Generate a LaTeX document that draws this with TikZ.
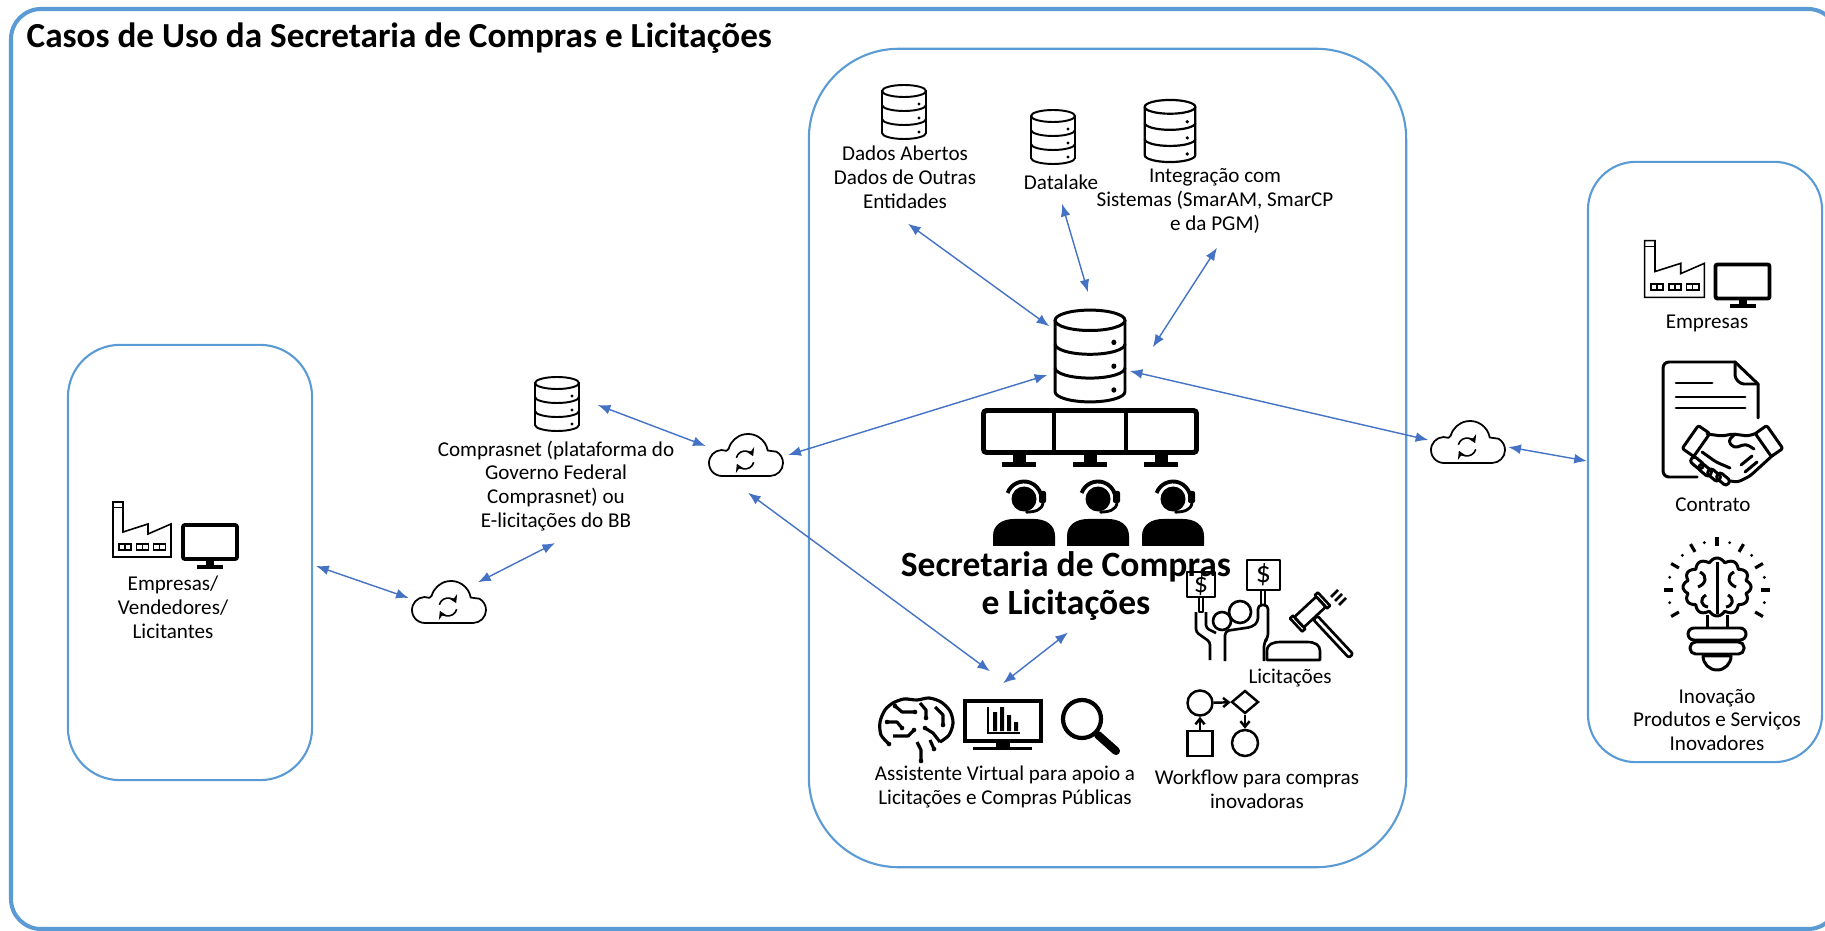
\documentclass[tikz,border=0pt]{standalone}
\usepackage{fontspec}
\setmainfont{Carlito}
\usetikzlibrary{arrows.meta,shapes.geometric}
\definecolor{frameblue}{RGB}{91,155,213}
\definecolor{arrowblue}{RGB}{68,114,196}

\tikzset{
  frame/.style={draw=frameblue, line width=1.15pt, rounded corners=0.3cm},
  panel/.style={draw=frameblue, line width=0.6pt, rectangle, inner sep=0pt},
  conn/.style={draw=arrowblue, line width=0.4pt,
    {Latex[length=3.6pt,width=2.8pt]}-{Latex[length=3.6pt,width=2.8pt]}},
  iconbox/.style={rectangle, inner sep=0pt, draw=none},
  lbl/.style={font=\fontsize{6}{6.8}\selectfont, align=center, inner sep=0pt},
  bigtxt/.style={font=\fontsize{10.1}{11}\selectfont\bfseries, align=center, inner sep=0pt},
  flowtip/.style={-{Straight Barb[length=1.6pt,width=2.6pt]}},
  synctip/.style={-{Stealth[length=2.2pt,width=2.6pt]}},
  % database cylinder, 44 x 54 units, centred
  dbicon/.pic={
    \draw (-22,-21) -- (-22,21) arc[start angle=180, end angle=0, x radius=22, y radius=6] -- (22,-21);
    \draw (0,-21) ellipse[x radius=22, y radius=6];
    \draw (-22,-7) arc[start angle=180, end angle=0, x radius=22, y radius=6];
    \draw (-22,7) arc[start angle=180, end angle=0, x radius=22, y radius=6];
    \fill (15,-8) circle[radius=1.6] (15,6) circle[radius=1.6] (15,20) circle[radius=1.6];
  },
  % cloud with sync arrows, 74 x 42 units
  cloudicon/.pic={
    \draw[line width=0.5pt, line join=round] (-24,21) -- (24,21) arc[start angle=90,end angle=-60,radius=13]
      -- (21.7,-4.5) arc[start angle=-10,end angle=-165,radius=20]
      -- (-19.6,-4.2) arc[start angle=-70,end angle=-270,radius=13] -- cycle;
    \draw[line width=0.45pt, synctip] (-1,5) ++(195:9) arc[start angle=195,end angle=335,radius=9];
    \draw[line width=0.45pt, synctip] (-1,5) ++(15:9) arc[start angle=15,end angle=155,radius=9];
  },
  % factory outline, 58 x 55 units
  factoryicon/.pic={
    \draw[line width=0.45pt, line join=miter] (-29,27.5) -- (-29,-27.5) -- (-19,-27.5) -- (-19,2.5) -- (6,-5.5)
      -- (6,4.5) -- (29,-5.5) -- (29,27.5) -- cycle;
    \draw[line width=0.45pt] (-29,-22) -- (-19,-22);
    \foreach \a in {-23,-5.5,11.5}{
      \draw[line width=0.45pt] (\a,14.5) rectangle ++(12,6);
      \draw[line width=0.45pt] (\a+6,14.5) -- ++(0,6);
    }
  },
  % desktop monitor, 58 x 46 units
  screenicon/.pic={
    \draw[line width=1.1pt, rounded corners=0.02cm] (-27,-21) rectangle (27,13);
    \fill (-4,15) rectangle (4,19);
    \fill (-13,19) rectangle (13,23);
  },
  % operator with headset
  agenticon/.pic={
    \fill (0,0) circle[radius=12.5];
    \draw[line width=1.1pt] (-160:17.5) arc[start angle=-160,end angle=-15,radius=17.5];
    \fill[rounded corners=0.02cm] (15,-8) rectangle (22,4);
    \draw[line width=0.8pt] (19,4) .. controls (18,11) and (11,13) .. (3,13);
    \fill (3,13) circle[radius=1.8];
    \fill (-31,47) -- (-31,37) .. controls (-31,26) and (-22,20) .. (-10,20) -- (10,20)
      .. controls (22,20) and (31,26) .. (31,37) -- (31,47) -- cycle;
  }
}

\begin{document}
\begin{tikzpicture}[x=0.01cm, y=-0.01cm]
\useasboundingbox (0,0) rectangle (1825,931);

% ---------- frame and title ----------
\draw[frame] (11,9) rectangle (1838,929);
\node[anchor=base west, inner sep=0pt, font=\fontsize{10}{12}\selectfont\bfseries] (title) at (26,48)
  {Casos de Uso da Secretaria de Compras e Licitações};

% ---------- panels ----------
\node[panel, rounded corners=0.52cm, minimum width=2.44cm, minimum height=4.35cm] (leftbox) at (190,562.5) {};
\node[panel, rounded corners=0.9cm, minimum width=5.97cm, minimum height=8.18cm] (centerbox) at (1107.5,458) {};
\node[panel, rounded corners=0.48cm, minimum width=2.34cm, minimum height=6.0cm] (rightbox) at (1705,462) {};

% ---------- left panel: companies ----------
\node[iconbox, minimum width=0.58cm, minimum height=0.55cm] (factL) at (142,529.5) {};
\pic at (factL) {factoryicon};
\node[iconbox, minimum width=0.58cm, minimum height=0.46cm] (monL) at (210,546) {};
\pic at (monL) {screenicon};
\node[lbl] (tleft) at (173,607) {Empresas/\\Vendedores/\\Licitantes};

% ---------- clouds ----------
\node[iconbox, minimum width=0.74cm, minimum height=0.43cm] (cloudL) at (449,602) {};
\pic at (cloudL) {cloudicon};
\node[iconbox, minimum width=0.74cm, minimum height=0.43cm] (cloudC) at (746,455) {};
\pic at (cloudC) {cloudicon};
\node[iconbox, minimum width=0.74cm, minimum height=0.43cm] (cloudR) at (1468,442) {};
\pic at (cloudR) {cloudicon};

% ---------- Comprasnet ----------
\node[iconbox, minimum width=0.45cm, minimum height=0.54cm] (dbcomp) at (557,404) {};
\pic[line width=0.55pt] at (dbcomp) {dbicon};
\node[lbl] (tcomp) at (556,486) {Comprasnet (plataforma do\\Governo Federal\\Comprasnet) ou\\E-licitações do BB};

% ---------- data sources ----------
\node[iconbox, minimum width=0.44cm, minimum height=0.54cm] (db1) at (904,112) {};
\pic[line width=0.55pt] at (db1) {dbicon};
\node[lbl] (t1) at (905,177) {Dados Abertos\\Dados de Outras\\Entidades};

\node[iconbox, minimum width=0.45cm, minimum height=0.53cm] (db2) at (1053,137) {};
\pic[line width=0.55pt] at (db2) {dbicon};
\node[lbl] (t2) at (1061,182) {Datalake};

\node[iconbox, minimum width=0.51cm, minimum height=0.62cm] (db3) at (1170,131) {};
\pic[line width=0.62pt, scale=1.15] at (db3) {dbicon};
\node[lbl] (t3) at (1215,201) {Integração com\\Sistemas (SmarAM, SmarCP\\e da PGM)};

\node[iconbox, minimum width=0.70cm, minimum height=0.92cm] (dbc) at (1090,356) {};
\pic[line width=0.85pt, xscale=1.59, yscale=1.7] at (dbc) {dbicon};

% ---------- monitoring room ----------
\draw[line width=1.4pt, rounded corners=0.03cm] (983.5,410.5) rectangle (1196.5,452.5);
\draw[line width=1.4pt] (1054,410.5) -- (1054,452.5) (1126,410.5) -- (1126,452.5);
\foreach \c in {1019,1090,1161}{
  \fill (\c-6.5,453) rectangle (\c+6.5,462);
  \fill (\c-17,462) rectangle (\c+17,467);
}
\foreach \c in {1024,1098,1173}{ \pic at (\c,499) {agenticon}; }
\node[bigtxt] (tsec) at (1066,586) {Secretaria de Compras\\e Licitações};

% ---------- bidding icon ----------
\begin{scope}[line width=0.75pt, line join=round]
  \draw (1222,621) circle[radius=9];
  \draw[rounded corners=0.03cm] (1196,612) -- (1196,632) -- (1210,642) -- (1210,660);
  \draw[rounded corners=0.03cm] (1206,612) -- (1206,628) -- (1216,633);
  \draw (1199,597) -- (1199,612) -- (1203,612) -- (1203,597);
  \draw (1187,572) rectangle (1215,597);
  \draw[fill=white, rounded corners=0.04cm] (1225,661) -- (1225,631) -- (1252,627) -- (1258,622) -- (1258,605)
     -- (1268,605) -- (1268,638) -- (1264,642) -- (1264,661);
  \draw[fill=white] (1240,612) circle[radius=11];
  \draw (1261,590) -- (1261,605) (1265,590) -- (1265,605);
  \draw (1247,560) rectangle (1280,590);
  \draw (1267,660) -- (1267,651) .. controls (1267,644) and (1273,642) .. (1281,642) -- (1307,642)
     .. controls (1315,642) and (1320,645) .. (1320,651) -- (1320,660) -- cycle;
  \begin{scope}[shift={(1310,612)}, rotate=-47]
    \draw[rounded corners=0.015cm] (8,-2.8) rectangle (60,2.8);
    \draw[rounded corners=0.02cm] (-7,-15) rectangle (7,15);
    \draw (-9,-19) rectangle (9,-15);
    \draw (-9,15) rectangle (9,19);
  \end{scope}
  \draw (1331,597) -- (1338,590) (1335,601) -- (1342,594) (1339,605) -- (1346,598);
\end{scope}
\node[inner sep=0pt, font=\fontsize{8}{8}\selectfont] (dollarA) at (1201,585) {\$};
\node[inner sep=0pt, font=\fontsize{8.5}{8.5}\selectfont] (dollarB) at (1263.5,575) {\$};
\node[lbl] (tlic) at (1290,678) {Licitações};

% ---------- virtual assistant ----------
\node[iconbox, minimum width=2.44cm, minimum height=0.65cm] (assist) at (1000,730.5) {};
\begin{scope}[line width=0.9pt, line join=round]
  \draw plot[smooth] coordinates {(889,744) (881,735) (880,722) (885,710) (893,703) (904,699) (917,700)
    (929,698) (941,702) (950,711) (953,723) (949,735) (940,742)};
  \draw (887,722) -- (897,722) -- (902,728);
  \draw (895,706) -- (902,712) -- (915,712);
  \draw (920,703) -- (926,710) -- (926,718);
  \draw (935,707) -- (943,715) -- (943,725);
  \draw (893,736) -- (908,736) -- (914,730);
  \draw (917,742) -- (921,750) -- (921,760);
  \draw (930,740) -- (934,749);
  \draw (940,742) -- (933,733) -- (925,728);
\end{scope}
\foreach \p in {(902,728),(915,712),(926,718),(943,725),(914,730),(921,761),(934,749),(925,728),(889,744),(887,722),(895,706)}{
  \fill \p circle[radius=2.3];
}
\draw[line width=1.15pt] (965,701) rectangle (1041,741);
\fill (996,742) rectangle (1010,747);
\fill (973,746.5) rectangle (1032,750);
\draw[line width=0.6pt] (988,707) -- (988,733) -- (1020,733);
\fill (993,712) rectangle (997,731) (1000,707) rectangle (1004,731) (1007,715) rectangle (1011,731) (1014,722) rectangle (1018,731);
\draw[line width=1.2pt] (1082,719) circle[radius=19];
\draw[line width=2.3pt, line cap=round] (1098,735) -- (1116,751);
\node[lbl] (tassist) at (1005,787) {Assistente Virtual para apoio a\\Licitações e Compras Públicas};

% ---------- workflow ----------
\begin{scope}[line width=0.7pt]
  \node[circle, draw, inner sep=0pt, minimum size=0.25cm] (wfA) at (1200,703) {};
  \node[diamond, draw, inner sep=0pt, minimum width=0.27cm, minimum height=0.23cm] (wfB) at (1245,702) {};
  \node[circle, draw, inner sep=0pt, minimum size=0.26cm] (wfC) at (1245,743) {};
  \node[rectangle, draw, inner sep=0pt, minimum size=0.25cm] (wfD) at (1200,743.5) {};
  \draw[flowtip] (wfA) -- (wfB);
  \draw[flowtip] (wfB) -- (wfC);
  \draw[flowtip] (wfD) -- (wfA);
\end{scope}
\node[lbl] (twork) at (1257,789) {Workflow para compras\\inovadoras};

% ---------- right panel ----------
\node[iconbox, minimum width=0.61cm, minimum height=0.56cm] (factR) at (1674.5,269) {};
\pic[scale=1.03] at (factR) {factoryicon};
\node[iconbox, minimum width=0.59cm, minimum height=0.45cm] (monR) at (1742.5,285.5) {};
\pic at (monR) {screenicon};
\node[lbl] (temp) at (1707,323) {Empresas};

% contract with handshake
\begin{scope}[line width=0.85pt, line join=round, line cap=round]
  \draw[rounded corners=0.06cm] (1697,477) -- (1663,477) -- (1663,362) -- (1735,362);
  \draw (1735,362) -- (1758,384) -- (1758,418);
  \draw[rounded corners=0.03cm] (1735,362) -- (1735,378) -- (1741,384) -- (1758,384);
  \draw (1676,383) -- (1712,383) (1676,397) -- (1745,397) (1676,408) -- (1745,408);
  % cuffs
  \draw[rotate around={55:(1696,441)}, rounded corners=0.02cm] (1682,434) rectangle (1710,448);
  \draw[rotate around={-55:(1769,441)}, rounded corners=0.02cm] (1755,434) rectangle (1783,448);
  % upper edge of both hands and the thumb
  \draw[rounded corners=0.03cm] (1707,434) -- (1722,436) -- (1733,434) -- (1748,436) -- (1757,433);
  \draw[rounded corners=0.035cm] (1735,434) -- (1728,441) -- (1734,448) -- (1746,444) -- (1754,449);
  % lower edge of the right hand with finger lines
  \draw[rounded corners=0.03cm] (1773,455) -- (1750,476) -- (1738,482) -- (1730,481);
  \draw (1741,465) -- (1752,456) (1745,472) -- (1757,462);
  % fingers of the left hand
  \foreach \q in {(1697,463),(1705,470),(1714,475),(1723,479)}{
    \draw[rotate around={-40:\q}, rounded corners=0.03cm] \q ++(-7,-3.5) rectangle ++(14,7);
  }
  \draw[rounded corners=0.03cm] (1702,452) -- (1716,462) -- (1730,468);
\end{scope}
\node[lbl] (tcont) at (1713,505) {Contrato};

% innovation bulb
\foreach \a in {-30,0,30,60,90,120,150,180,210}{
  \draw[line width=0.9pt] (1717,590) ++(-\a:44) -- ++(-\a:9);
}
\foreach \a in {-15,15,45,75,105,135,165,195}{
  \fill (1717,590) ++(-\a:49) circle[radius=1.6];
}
\begin{scope}[line width=0.85pt, line join=round]
  \draw plot[domain=0:360, samples=145, smooth, variable=\t]
    ({1717+(30+4*abs(cos(6*\t)))*cos(\t)}, {587+(25+4*abs(cos(6*\t)))*sin(\t)});
  \draw (1717,562) -- (1717,614);
  \draw (1700,572) .. controls (1708,576) and (1706,584) .. (1698,587);
  \draw (1706,595) .. controls (1699,599) and (1701,606) .. (1708,607);
  \draw (1734,572) .. controls (1726,576) and (1728,584) .. (1736,587);
  \draw (1728,595) .. controls (1735,599) and (1733,606) .. (1726,607);
  \draw (1707,615) -- (1707,628) (1727,615) -- (1727,628);
  \draw[rounded corners=0.06cm] (1688,628) rectangle (1746,640);
  \draw[rounded corners=0.055cm] (1690,642) rectangle (1744,654);
  \draw (1703,656) arc[start angle=180,end angle=0,radius=14] -- cycle;
\end{scope}
\node[lbl] (tinov) at (1717,720) {Inovação\\Produtos e Serviços\\Inovadores};

% ---------- connectors ----------
\draw[conn] ([shift={(4,84)}]db1.south) -- ([shift={(-5,17)}]dbc.north west);
\draw[conn] ([shift={(9,39.5)}]db2.south) -- ([shift={(-2,-17)}]dbc.north);
\draw[conn] ([shift={(47,85)}]db3.south) -- ([shift={(27,38)}]dbc.north east);
\draw[conn] ([shift={(4,15)}]dbc.east) -- ([shift={(-2,-2)}]cloudR.west);
\draw[conn] ([shift={(2.5,5)}]cloudR.east) -- ([shift={(0,-1)}]rightbox.west);
\draw[conn] ([shift={(4.5,0)}]cloudC.east) -- ([shift={(-7,19)}]dbc.west);
\draw[conn] ([shift={(17.5,1)}]dbcomp.east) -- ([shift={(-2.5,-9)}]cloudC.west);
\draw[conn] ([shift={(2,15.5)}]cloudC.south) -- ([shift={(-10,-26)}]assist.north);
\draw[conn] ([shift={(3,-14)}]assist.north) -- ([shift={(2,11)}]tsec.south);
\draw[conn] ([shift={(29,2.5)}]cloudL.north) -- ([shift={(-1,11)}]tcomp.south);
\draw[conn] ([shift={(3,3.5)}]leftbox.east) -- ([shift={(-2.5,-4)}]cloudL.west);
\end{tikzpicture}
\end{document}
